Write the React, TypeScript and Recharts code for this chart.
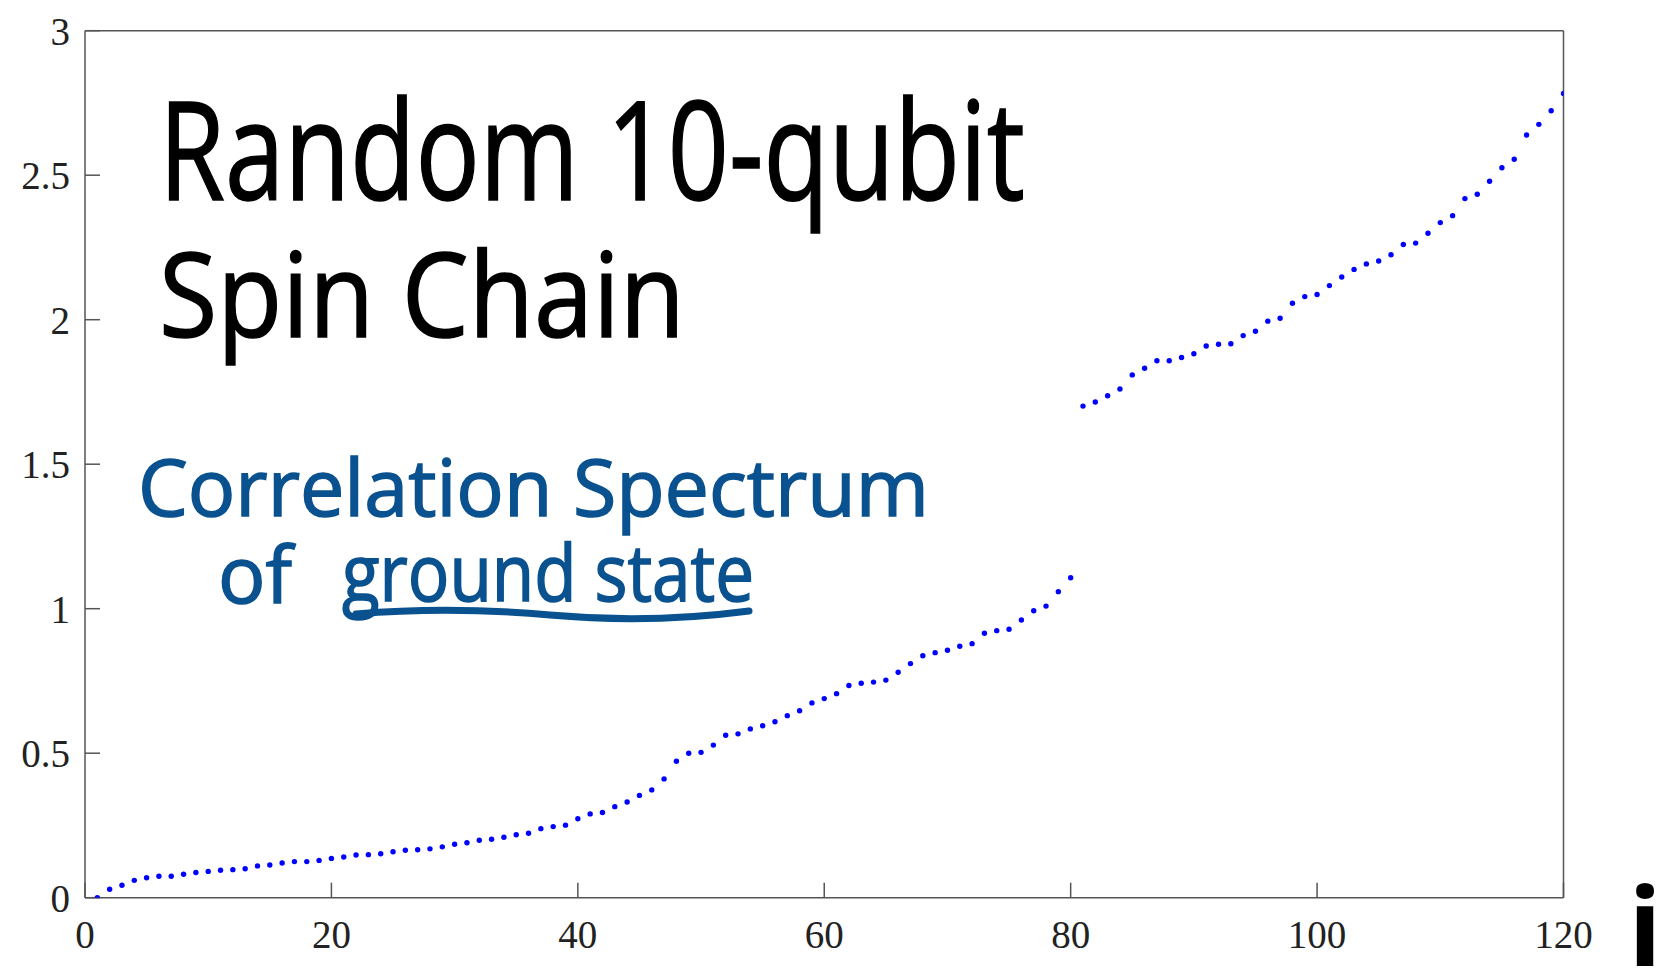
import React from 'react';
import { ScatterChart, XAxis, YAxis, Scatter } from 'recharts';

// correlation spectrum eigenvalues, sorted, for i = 1..120
const spectrum: number[] = [
  0.0, 0.029, 0.043, 0.06, 0.069, 0.074, 0.074, 0.081, 0.087, 0.091,
  0.095, 0.097, 0.1, 0.11, 0.113, 0.12, 0.125, 0.125, 0.129, 0.136,
  0.141, 0.148, 0.149, 0.152, 0.159, 0.164, 0.166, 0.169, 0.176, 0.185,
  0.19, 0.199, 0.202, 0.209, 0.218, 0.223, 0.239, 0.246, 0.251, 0.273,
  0.29, 0.295, 0.315, 0.331, 0.354, 0.373, 0.411, 0.472, 0.5, 0.503,
  0.528, 0.562, 0.567, 0.584, 0.595, 0.609, 0.63, 0.647, 0.674, 0.689,
  0.706, 0.734, 0.742, 0.746, 0.753, 0.78, 0.81, 0.837, 0.848, 0.856,
  0.87, 0.879, 0.915, 0.924, 0.929, 0.961, 0.993, 1.009, 1.059, 1.107,
  1.701, 1.715, 1.737, 1.76, 1.809, 1.832, 1.858, 1.858, 1.869, 1.882,
  1.909, 1.915, 1.917, 1.945, 1.96, 1.995, 2.005, 2.057, 2.08, 2.087,
  2.118, 2.148, 2.174, 2.193, 2.203, 2.225, 2.26, 2.265, 2.299, 2.336,
  2.36, 2.419, 2.434, 2.479, 2.526, 2.555, 2.639, 2.676, 2.723, 2.783,
];

const xTicks = [0, 20, 40, 60, 80, 100, 120];
const yTicks = [0, 0.5, 1, 1.5, 2, 2.5, 3];

const data = spectrum.map((v, k) => ({ i: k + 1, v }));

const AXIS = '#555555';
const LABEL = '#222222';
const INK = '#0a518f';
const tickFont = { fontFamily: '"Liberation Serif", serif', fontSize: 39, fill: LABEL };
const hand = '"Open Sans", "Noto Sans", sans-serif';

const Dot = (props: any) => <circle cx={props.cx} cy={props.cy} r={2.7} fill="#0000ff" />;

const App: React.FC = () => {
  return (
    <div style={{ position: 'absolute', left: 0, top: 0, width: 1665, height: 970, background: '#fff' }}>
      <ScatterChart
        width={1665}
        height={970}
        margin={{ top: 29.7, right: 100.5, bottom: 0, left: 0 }}
      >
        <XAxis
          xAxisId="b"
          type="number"
          dataKey="i"
          domain={[0, 120]}
          ticks={xTicks}
          height={72.3}
          stroke={AXIS}
          strokeWidth={1.5}
          tickSize={-15}
          tickMargin={38}
          tick={tickFont}
          allowDataOverflow
        />
        <XAxis
          xAxisId="t"
          orientation="top"
          type="number"
          dataKey="i"
          domain={[0, 120]}
          ticks={xTicks}
          height={1}
          stroke={AXIS}
          strokeWidth={1.5}
          tickSize={-15}
          tick={false}
          allowDataOverflow
        />
        <YAxis
          yAxisId="l"
          type="number"
          dataKey="v"
          domain={[0, 3]}
          ticks={yTicks}
          width={85}
          stroke={AXIS}
          strokeWidth={1.5}
          tickSize={-15}
          tickMargin={30}
          tick={tickFont}
          tickFormatter={(v: number) => String(v)}
          allowDataOverflow
        />
        <YAxis
          yAxisId="r"
          orientation="right"
          type="number"
          dataKey="v"
          domain={[0, 3]}
          ticks={yTicks}
          width={1}
          stroke={AXIS}
          strokeWidth={1.5}
          tickSize={-15}
          tick={false}
          allowDataOverflow
        />
        <Scatter data={data} xAxisId="b" yAxisId="l" shape={Dot} isAnimationActive={false} />
        <Scatter data={data} xAxisId="t" yAxisId="r" shape={() => <g />} isAnimationActive={false} />
      </ScatterChart>

      <svg
        width={1665}
        height={970}
        style={{ position: 'absolute', left: 0, top: 0, pointerEvents: 'none' }}
      >
        <g fontFamily={hand}>
          <text x={159} y={200} fontSize={138} fill="#000" stroke="#000" strokeWidth={1.5}
            textLength={866} lengthAdjust="spacingAndGlyphs">
            Random 10-qubit
          </text>
          <text x={159} y={337} fontSize={118} fill="#000" stroke="#000" strokeWidth={1.5}
            textLength={526} lengthAdjust="spacingAndGlyphs">
            Spin Chain
          </text>
          <text x={138} y={516} fontSize={78} fill={INK} stroke={INK} strokeWidth={1.5}
            textLength={791} lengthAdjust="spacingAndGlyphs">
            Correlation Spectrum
          </text>
          <text x={218} y={603} fontSize={78} fill={INK} stroke={INK} strokeWidth={1.5}
            textLength={74} lengthAdjust="spacingAndGlyphs">
            of
          </text>
          <text x={342} y={601} fontSize={78} fill={INK} stroke={INK} strokeWidth={1.5}
            textLength={412} lengthAdjust="spacingAndGlyphs">
            ground state
          </text>
          <path d="M356 614 Q 450 606 550 615 T 749 611" fill="none" stroke={INK}
            strokeWidth={7} strokeLinecap="round" />
          <text x={1645} y={966} fontSize={110} fontWeight={700} fill="#000" textAnchor="middle">
            i
          </text>
        </g>
      </svg>
    </div>
  );
};

export default App;
